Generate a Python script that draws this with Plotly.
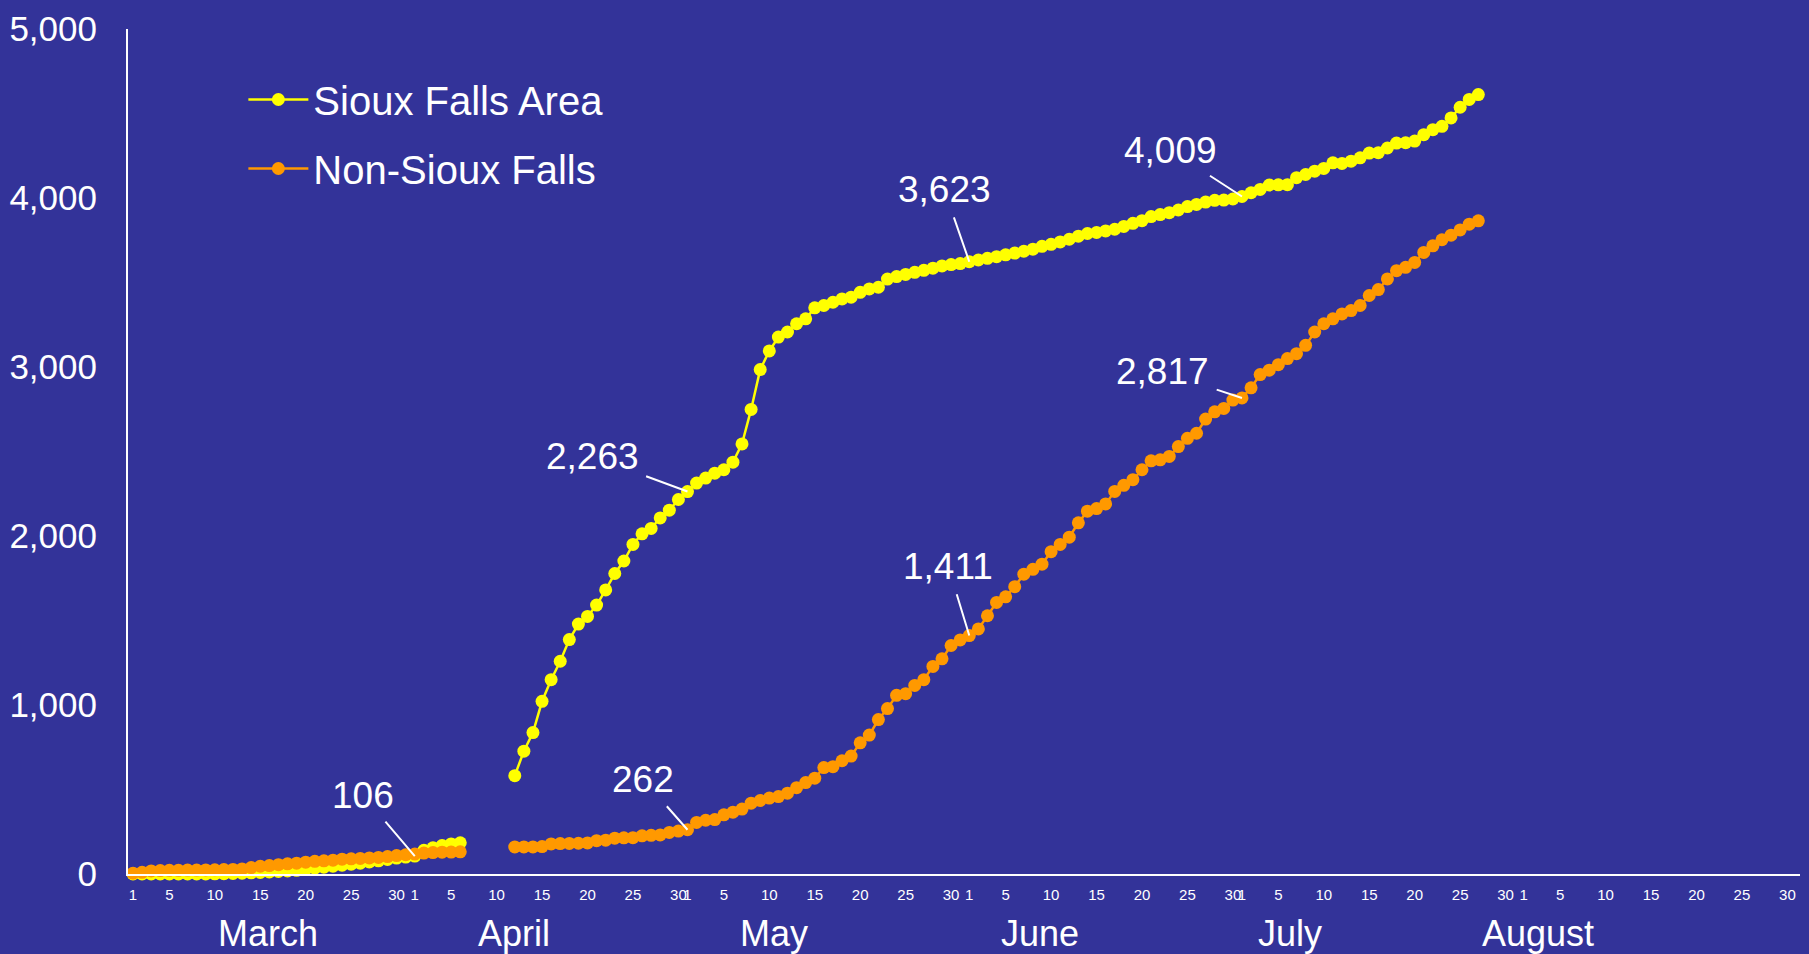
import plotly.graph_objects as go

# ---------------- data (cumulative cases, day by day) ----------------
month_names = ["March", "April", "May", "June", "July", "August"]
month_lengths = [31, 30, 31, 30, 31, 31]
tick_days = [1, 5, 10, 15, 20, 25, 30]

sioux_march = [0, 0, 0, 0, 0, 0, 0, 0, 0, 1, 2, 3, 5, 7, 9, 12, 15, 18, 22, 28,
               34, 40, 46, 52, 58, 64, 71, 78, 86, 94, 100]
sioux_april = [106, 140, 155, 168, 178, 185, None, None, None, None, None,
               582, 727, 837, 1022, 1150, 1259, 1387, 1479, 1524, 1591, 1681,
               1778, 1852, 1950, 2013, 2045, 2107, 2153, 2216]
sioux_may = [2263, 2313, 2343, 2372, 2392, 2437, 2545, 2749, 2985, 3095, 3177,
             3207, 3256, 3285, 3350, 3364, 3383, 3403, 3413, 3442, 3462, 3472,
             3520, 3535, 3548, 3560, 3572, 3585, 3598, 3606, 3612]
sioux_june = [3623, 3633, 3643, 3653, 3664, 3674, 3685, 3697, 3714, 3726, 3740,
              3756, 3774, 3790, 3796, 3805, 3815, 3832, 3850, 3866, 3890, 3902,
              3913, 3929, 3949, 3962, 3976, 3986, 3988, 3994]
sioux_july = [4009, 4031, 4051, 4077, 4078, 4079, 4120, 4139, 4159, 4175, 4208,
              4204, 4218, 4238, 4266, 4268, 4296, 4325, 4327, 4337, 4375, 4404,
              4424, 4474, 4537, 4583, 4612]

non_march = [5, 10, 18, 20, 22, 22, 23, 23, 24, 25, 26, 27, 30, 38, 46, 50, 55,
             60, 64, 70, 75, 78, 82, 88, 90, 92, 95, 98, 103, 109, 114]
non_april = [118, 124, 127, 129, 130, 131, None, None, None, None, None,
             160, 160, 160, 162, 178, 180, 181, 182, 184, 197, 200, 212, 214,
             215, 226, 229, 231, 246, 254]
non_may = [262, 305, 318, 322, 350, 366, 384, 419, 435, 449, 458, 478, 511, 541,
           567, 630, 635, 670, 698, 776, 822, 914, 979, 1057, 1067, 1116, 1150,
           1228, 1273, 1352, 1385]
non_june = [1411, 1450, 1528, 1607, 1640, 1700, 1774, 1803, 1833, 1907, 1950,
            1993, 2078, 2147, 2162, 2190, 2264, 2300, 2333, 2392, 2445, 2451,
            2471, 2529, 2578, 2608, 2692, 2735, 2755, 2804]
non_july = [2817, 2877, 2955, 2981, 3014, 3050, 3079, 3128, 3207, 3256, 3285,
            3314, 3334, 3364, 3423, 3458, 3521, 3570, 3590, 3619, 3678, 3717,
            3753, 3780, 3811, 3845, 3865]

# labelled points: (series, month index, day, text, label offset x, y in px)
callouts = [
    ("sioux", 1, 1, "106", -52, -61),
    ("non", 2, 1, "262", -44, -50),
    ("sioux", 2, 1, "2,263", -95, -35),
    ("non", 3, 1, "1,411", -21, -69),
    ("sioux", 3, 1, "3,623", -25, -72),
    ("sioux", 4, 1, "4,009", -71, -46),
    ("non", 4, 1, "2,817", -79, -26),
]
# month label centres (day-of-series position)
month_label_pos = [14.9, 41.9, 70.5, 99.8, 127.3, 154.6]

# ---------------- build ----------------
sioux = sioux_march + sioux_april + sioux_may + sioux_june + sioux_july
non = non_march + non_april + non_may + non_june + non_july
x_sioux = list(range(len(sioux)))
x_non = list(range(len(non)))

month_start = [sum(month_lengths[:i]) for i in range(len(month_lengths))]
tickvals, ticktext = [], []
for ms, ml in zip(month_start, month_lengths):
    for d in tick_days:
        if d <= ml:
            tickvals.append(ms + d - 1)
            ticktext.append(str(d))

BG = "#333399"
YEL = "#FFFF00"
ORA = "#FF9900"
FONT = "Liberation Sans, Arial, sans-serif"
NARROW = "Liberation Sans Narrow, Arial Narrow, Liberation Sans, Arial, sans-serif"

fig = go.Figure()
fig.add_trace(go.Scatter(
    x=x_sioux, y=sioux, name="Sioux Falls Area", mode="lines+markers",
    line=dict(color=YEL, width=2.5), marker=dict(color=YEL, size=13),
    connectgaps=False, cliponaxis=False, legendgroup="a"))
fig.add_trace(go.Scatter(
    x=x_non, y=non, name="Non-Sioux Falls", mode="lines+markers",
    line=dict(color=ORA, width=2.5), marker=dict(color=ORA, size=13),
    connectgaps=False, cliponaxis=False, legendgroup="b"))

W, H = 1809, 954
ML, MR, MT, MB = 128, 9, 25, 80
px_per_day = 9.09
x0 = -0.55
x1 = x0 + (W - ML - MR) / px_per_day

annotations = []
series_map = {"sioux": sioux, "non": non}
for s, mi, day, txt, ax, ay in callouts:
    idx = month_start[mi] + day - 1
    annotations.append(dict(
        x=idx, y=series_map[s][idx], xref="x", yref="y", text=txt,
        showarrow=True, arrowhead=0, arrowwidth=2, arrowcolor="white",
        ax=ax, ay=ay, standoff=0, startstandoff=6,
        font=dict(family=FONT, size=37, color="white")))
for name, pos in zip(month_names, month_label_pos):
    annotations.append(dict(
        x=pos, y=-0.07, xref="x", yref="paper", text=name, showarrow=False,
        xanchor="center", yanchor="middle",
        font=dict(family=NARROW, size=36, color="white")))

fig.update_layout(
    width=W, height=H,
    margin=dict(l=ML, r=MR, t=MT, b=MB),
    paper_bgcolor=BG, plot_bgcolor=BG,
    font=dict(family=FONT, color="white"),
    showlegend=True,
    legend=dict(x=0.069, y=0.955, xanchor="left", yanchor="top",
                bgcolor="rgba(0,0,0,0)", font=dict(size=40, color="white"),
                tracegroupgap=14, itemwidth=60),
    xaxis=dict(range=[x0, x1], showgrid=False, zeroline=False,
               showline=True, linecolor="white", linewidth=2,
               tickvals=tickvals, ticktext=ticktext, tickangle=0,
               ticks="", ticklabelstandoff=6,
               tickfont=dict(family=NARROW, size=15, color="white")),
    yaxis=dict(range=[0, 5000], showgrid=False, zeroline=False,
               showline=True, linecolor="white", linewidth=2,
               tickvals=[0, 1000, 2000, 3000, 4000, 5000], tickformat=",",
               ticks="", ticklabelstandoff=22,
               tickfont=dict(family=FONT, size=35, color="white")),
    annotations=annotations,
)

fig.write_html("out.html", config={"displayModeBar": False},
               post_script="document.body.style.margin='0';document.body.style.overflow='hidden';")
